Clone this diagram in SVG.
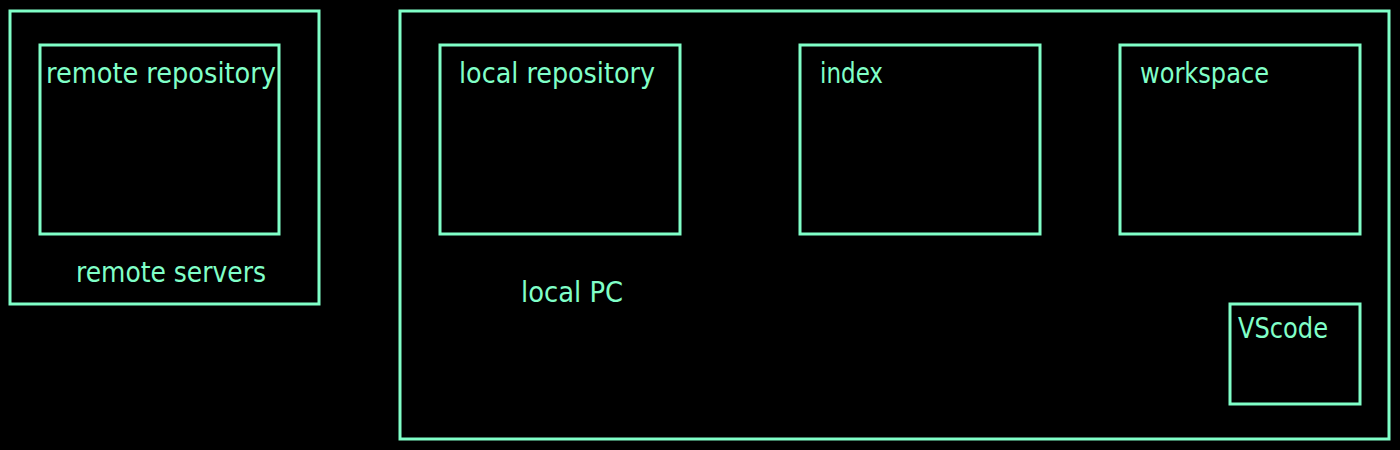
<svg xmlns="http://www.w3.org/2000/svg" width="1400" height="450" viewBox="0 0 1400 450">
<style>
.b{fill:none;stroke:#80FFC8;stroke-width:3}
.t{fill:#80FFC8;font-family:"DejaVu Sans Condensed","DejaVu Sans","Liberation Sans",sans-serif;font-size:28px}
</style>
<rect width="1400" height="450" fill="#000"/>
<g id="remote-servers">
<rect class="b" x="10" y="11" width="309" height="293"/>
<text class="t" x="76" y="282" textLength="190" lengthAdjust="spacingAndGlyphs">remote servers</text>
</g>
<g id="remote-repository">
<rect class="b" x="40" y="45" width="239" height="189"/>
<text class="t" x="46" y="83" textLength="230" lengthAdjust="spacingAndGlyphs">remote repository</text>
</g>
<g id="local-pc">
<rect class="b" x="400" y="11" width="989" height="428"/>
<text class="t" x="521" y="302" textLength="102" lengthAdjust="spacingAndGlyphs">local PC</text>
</g>
<g id="local-repository">
<rect class="b" x="440" y="45" width="240" height="189"/>
<text class="t" x="459" y="83" textLength="196" lengthAdjust="spacingAndGlyphs">local repository</text>
</g>
<g id="index">
<rect class="b" x="800" y="45" width="240" height="189"/>
<text class="t" x="820" y="83" textLength="63" lengthAdjust="spacingAndGlyphs">index</text>
</g>
<g id="workspace">
<rect class="b" x="1120" y="45" width="240" height="189"/>
<text class="t" x="1140" y="83" textLength="129" lengthAdjust="spacingAndGlyphs">workspace</text>
</g>
<g id="vscode">
<rect class="b" x="1230" y="304" width="130" height="100"/>
<text class="t" x="1238" y="338" textLength="90" lengthAdjust="spacingAndGlyphs">VScode</text>
</g>
<g id="connectors"></g>
</svg>
